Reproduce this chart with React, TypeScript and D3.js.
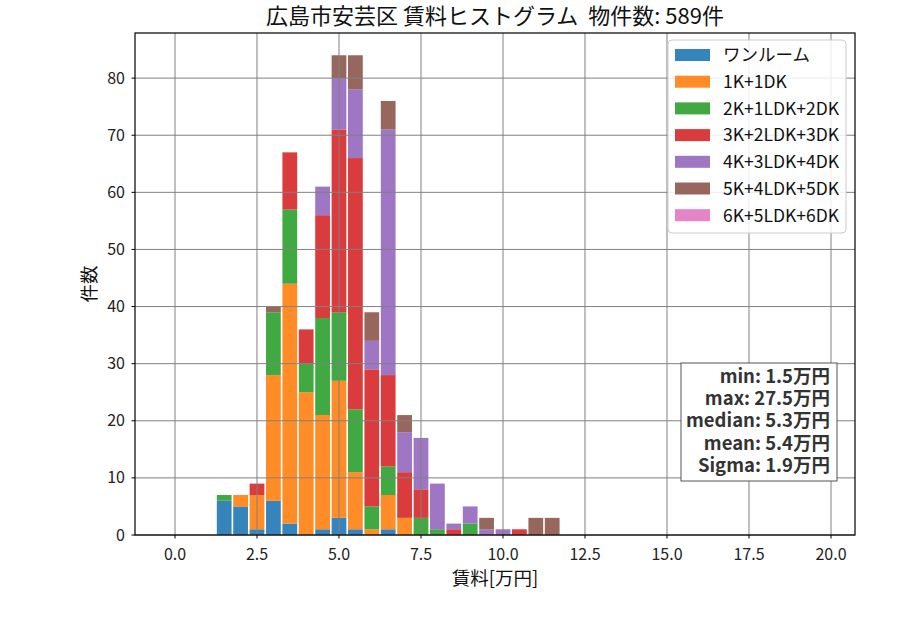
import React from "react";
import * as d3 from "d3";

const binCenters = [1.5, 2.0, 2.5, 3.0, 3.5, 4.0, 4.5, 5.0, 5.5, 6.0, 6.5, 7.0, 7.5, 8.0, 8.5, 9.0, 9.5, 10.0, 10.5, 11.0, 11.5];
const binWidth = 0.5;
const seriesNames = ["ワンルーム", "1K+1DK", "2K+1LDK+2DK", "3K+2LDK+3DK", "4K+3LDK+4DK", "5K+4LDK+5DK", "6K+5LDK+6DK"];
const oneRoom = [6, 5, 1, 6, 2, 0, 1, 3, 1, 0, 1, 0, 0, 0, 0, 0, 0, 0, 0, 0, 0];
const k1 = [0, 2, 6, 22, 42, 25, 20, 24, 10, 1, 6, 3, 0, 0, 0, 0, 0, 0, 0, 0, 0];
const k2 = [1, 0, 0, 11, 13, 5, 17, 12, 11, 4, 5, 0, 3, 1, 0, 2, 0, 0, 0, 0, 0];
const k3 = [0, 0, 2, 0, 10, 6, 18, 32, 44, 24, 16, 8, 5, 0, 1, 0, 0, 0, 1, 0, 0];
const k4 = [0, 0, 0, 0, 0, 0, 5, 9, 12, 5, 43, 7, 9, 8, 1, 3, 1, 1, 0, 0, 0];
const k5 = [0, 0, 0, 1, 0, 0, 0, 4, 6, 5, 5, 3, 0, 0, 0, 0, 2, 0, 0, 3, 3];
const k6 = [0, 0, 0, 0, 0, 0, 0, 0, 0, 0, 0, 0, 0, 0, 0, 0, 0, 0, 0, 0, 0];
const seriesValues = [oneRoom, k1, k2, k3, k4, k5, k6];
const colors = ["#1f77b4", "#ff7f0e", "#2ca02c", "#d62728", "#9467bd", "#8c564b", "#e377c2"];
const xTicks = [0, 2.5, 5, 7.5, 10, 12.5, 15, 17.5, 20];
const yTicks = [0, 10, 20, 30, 40, 50, 60, 70, 80];
const statLines = ["min: 1.5万円", "max: 27.5万円", "median: 5.3万円", "mean: 5.4万円", "Sigma: 1.9万円"];
const title = "広島市安芸区 賃料ヒストグラム  物件数: 589件";
const xLabel = "賃料[万円]";
const yLabel = "件数";

const W = 900, H = 630;
const L = 135, R = 855, T = 33, B = 535;
const FONT = "'Noto Sans CJK JP', 'Noto Sans', sans-serif";

export default function App() {
  const x = d3.scaleLinear().domain([-1.2195, 20.732]).range([L, R]);
  const y = d3.scaleLinear().domain([0, 87.9]).range([B, T]);

  const rows = binCenters.map((c, i) => {
    const r: any = { c };
    seriesNames.forEach((n, s) => (r[n] = seriesValues[s][i]));
    return r;
  });
  const stacked = d3.stack().keys(seriesNames)(rows);
  const rw = binWidth * 0.9;

  return (
    <svg
      width={W}
      height={H}
      style={{ display: "block", position: "absolute", left: 0, top: 0 }}
      fontFamily={FONT}
    >
      <rect x={0} y={0} width={W} height={H} fill="white" />
      {stacked.map((layer, s) => (
        <g key={s} fill={colors[s]} fillOpacity={0.9}>
          {layer.map((d, i) =>
            d[1] - d[0] > 0 ? (
              <rect
                key={i}
                x={x(binCenters[i] - rw / 2)}
                width={x(binCenters[i] + rw / 2) - x(binCenters[i] - rw / 2)}
                y={y(d[1])}
                height={y(d[0]) - y(d[1])}
              />
            ) : null
          )}
        </g>
      ))}
      <g stroke="#808080" strokeWidth={1}>
        {xTicks.map((t) => (
          <line key={t} x1={x(t)} x2={x(t)} y1={T} y2={B} />
        ))}
        {yTicks.map((t) => (
          <line key={t} x1={L} x2={R} y1={y(t)} y2={y(t)} />
        ))}
      </g>
      <rect x={L} y={T} width={R - L} height={B - T} fill="none" stroke="black" strokeWidth={1.2} />
      <g fontSize={16} fill="#222">
        {xTicks.map((t) => (
          <g key={t}>
            <line x1={x(t)} x2={x(t)} y1={B} y2={B + 3.5} stroke="black" />
            <text x={x(t)} y={B + 25} textAnchor="middle">{d3.format(".1f")(t)}</text>
          </g>
        ))}
        {yTicks.map((t) => (
          <g key={t}>
            <line x1={L - 3.5} x2={L} y1={y(t)} y2={y(t)} stroke="black" />
            <text x={L - 10} y={y(t)} dy="0.35em" textAnchor="end">{t}</text>
          </g>
        ))}
      </g>
      <text x={(L + R) / 2} y={24} textAnchor="middle" fontSize={22} fill="#111" style={{ whiteSpace: "pre" }}>{title}</text>
      <text x={(L + R) / 2} y={585} textAnchor="middle" fontSize={18.5} fill="#111">{xLabel}</text>
      <text transform={`translate(96,${(T + B) / 2}) rotate(-90)`} textAnchor="middle" fontSize={18.5} fill="#111">{yLabel}</text>
      <g>
        <rect x={668} y={40} width={178} height={193} rx={4} fill="white" fillOpacity={0.85} stroke="#cccccc" />
        {seriesNames.map((n, i) => (
          <g key={n} transform={`translate(0,${55 + i * 26.7})`}>
            <rect x={675} y={-6} width={35} height={12} fill={colors[i]} fillOpacity={0.9} />
            <text x={723} y={0} dy="0.36em" fontSize={17.5} fill="#111">{n}</text>
          </g>
        ))}
      </g>
      <g>
        <rect x={681} y={363} width={156} height={118} fill="white" stroke="#555" strokeWidth={1} />
        {statLines.map((s, i) => (
          <text key={s} x={830} y={383 + i * 22.2} textAnchor="end" fontSize={18.5} fontWeight="bold" fill="#333">{s}</text>
        ))}
      </g>
    </svg>
  );
}
